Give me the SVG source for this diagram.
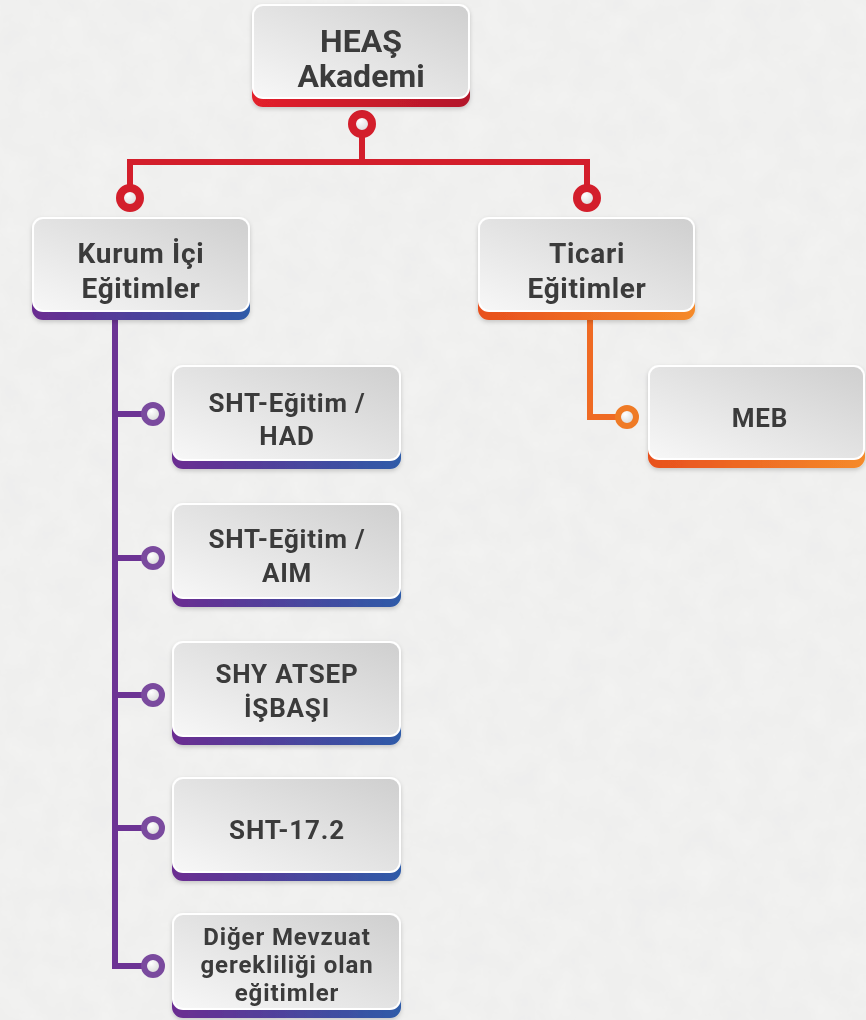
<svg xmlns="http://www.w3.org/2000/svg" width="866" height="1020" viewBox="0 0 866 1020">
<defs>
<linearGradient id="gGray" x1="0" y1="1" x2="1" y2="0">
<stop offset="0" stop-color="#f7f7f7"/><stop offset="1" stop-color="#cfcfcf"/>
</linearGradient>
<linearGradient id="gRed" x1="0" y1="0" x2="1" y2="0">
<stop offset="0" stop-color="#e3202c"/><stop offset="1" stop-color="#b3172b"/>
</linearGradient>
<linearGradient id="gPur" x1="0" y1="0" x2="1" y2="0">
<stop offset="0" stop-color="#6b2c91"/><stop offset="1" stop-color="#2e5ba8"/>
</linearGradient>
<linearGradient id="gOra" x1="0" y1="0" x2="1" y2="0">
<stop offset="0" stop-color="#e8501e"/><stop offset="1" stop-color="#f58a2a"/>
</linearGradient>
<radialGradient id="gDot" cx="0.4" cy="0.35" r="0.7">
<stop offset="0" stop-color="#ffffff"/><stop offset="1" stop-color="#d0d0d0"/>
</radialGradient>
<filter id="paper" x="0" y="0" width="100%" height="100%">
<feTurbulence type="fractalNoise" baseFrequency="0.035" numOctaves="4" seed="3" result="n"/>
<feColorMatrix in="n" type="matrix" values="0 0 0 0 0.5  0 0 0 0 0.5  0 0 0 0 0.5  0 0 0 0.12 0" result="c"/>
<feComposite in="c" in2="SourceGraphic" operator="over"/>
</filter>
<filter id="sh" x="-10%" y="-10%" width="120%" height="130%">
<feDropShadow dx="0" dy="2" stdDeviation="2" flood-color="#000" flood-opacity="0.18"/>
</filter>
</defs>
<style>
.t{font-family:Roboto,"Noto Sans","Liberation Sans",sans-serif;font-weight:700;fill:#3b3b3b;text-anchor:middle}
.big{font-size:32px}
.mid{font-size:28px;letter-spacing:0.7px}
.sm{font-size:26px;letter-spacing:0.8px}
.xs{font-size:24px;letter-spacing:0.9px}
.rl{stroke:#d31e2b;stroke-width:6;fill:none}
.pl{stroke:#6c3394;stroke-width:6;fill:none}
.ol{stroke:#ef6a23;stroke-width:6;fill:none}
.rc{fill:url(#gDot);stroke:#d31e2b;stroke-width:8}
.pc{fill:url(#gDot);stroke:#7a4a9e;stroke-width:6}
.oc{fill:url(#gDot);stroke:#ef7a25;stroke-width:6}
.wb{fill:#ffffff}
.gb{fill:url(#gGray)}
</style>
<rect width="866" height="1020" fill="#f3f3f2" filter="url(#paper)"/>

<g id="connectors">
<line class="rl" x1="362" y1="136" x2="362" y2="162"/>
<line class="rl" x1="127" y1="162" x2="590" y2="162"/>
<line class="rl" x1="130" y1="159" x2="130" y2="188"/>
<line class="rl" x1="587" y1="159" x2="587" y2="188"/>
<circle class="rc" cx="362" cy="124" r="10"/>
<circle class="rc" cx="130" cy="198" r="10"/>
<circle class="rc" cx="587" cy="198" r="10"/>

<polyline class="ol" points="590,318 590,417 616,417"/>
<circle class="oc" cx="627" cy="417" r="9"/>

<polyline class="pl" points="115,318 115,966 142,966"/>
<line class="pl" x1="115" y1="414" x2="142" y2="414"/>
<line class="pl" x1="115" y1="558" x2="142" y2="558"/>
<line class="pl" x1="115" y1="695" x2="142" y2="695"/>
<line class="pl" x1="115" y1="828" x2="142" y2="828"/>
<circle class="pc" cx="153" cy="414" r="9"/>
<circle class="pc" cx="153" cy="558" r="9"/>
<circle class="pc" cx="153" cy="695" r="9"/>
<circle class="pc" cx="153" cy="828" r="9"/>
<circle class="pc" cx="153" cy="966" r="9"/>
</g>

<g id="heas" filter="url(#sh)">
<rect x="252" y="14" width="218" height="93" rx="11" fill="url(#gRed)"/>
<rect x="252" y="4" width="218" height="95" rx="11" class="wb"/>
<rect x="254" y="6" width="214" height="91" rx="9" class="gb"/>
<text class="t big" x="361" y="52">HEAŞ</text>
<text class="t big" x="361" y="87">Akademi</text>
</g>

<g id="kurum" filter="url(#sh)">
<rect x="32" y="227" width="218" height="93" rx="11" fill="url(#gPur)"/>
<rect x="32" y="217" width="218" height="95" rx="11" class="wb"/>
<rect x="34" y="219" width="214" height="91" rx="9" class="gb"/>
<text class="t mid" x="141" y="263">Kurum İçi</text>
<text class="t mid" x="141" y="298">Eğitimler</text>
</g>

<g id="ticari" filter="url(#sh)">
<rect x="478" y="227" width="217" height="93" rx="11" fill="url(#gOra)"/>
<rect x="478" y="217" width="217" height="95" rx="11" class="wb"/>
<rect x="480" y="219" width="213" height="91" rx="9" class="gb"/>
<text class="t mid" x="587" y="263">Ticari</text>
<text class="t mid" x="587" y="298">Eğitimler</text>
</g>

<g id="meb" filter="url(#sh)">
<rect x="648" y="375" width="217" height="93" rx="11" fill="url(#gOra)"/>
<rect x="648" y="365" width="217" height="95" rx="11" class="wb"/>
<rect x="650" y="367" width="213" height="91" rx="9" class="gb"/>
<text class="t sm" x="760" y="427">MEB</text>
</g>

<g id="had" filter="url(#sh)">
<rect x="172" y="375" width="229" height="94" rx="11" fill="url(#gPur)"/>
<rect x="172" y="365" width="229" height="96" rx="11" class="wb"/>
<rect x="174" y="367" width="225" height="92" rx="9" class="gb"/>
<text class="t sm" x="287" y="412">SHT-Eğitim /</text>
<text class="t sm" x="287" y="445">HAD</text>
</g>

<g id="aim" filter="url(#sh)">
<rect x="172" y="513" width="229" height="94" rx="11" fill="url(#gPur)"/>
<rect x="172" y="503" width="229" height="96" rx="11" class="wb"/>
<rect x="174" y="505" width="225" height="92" rx="9" class="gb"/>
<text class="t sm" x="287" y="548">SHT-Eğitim /</text>
<text class="t sm" x="287" y="582">AIM</text>
</g>

<g id="atsep" filter="url(#sh)">
<rect x="172" y="651" width="229" height="94" rx="11" fill="url(#gPur)"/>
<rect x="172" y="641" width="229" height="96" rx="11" class="wb"/>
<rect x="174" y="643" width="225" height="92" rx="9" class="gb"/>
<text class="t sm" x="287" y="683">SHY ATSEP</text>
<text class="t sm" x="287" y="717">İŞBAŞI</text>
</g>

<g id="sht172" filter="url(#sh)">
<rect x="172" y="787" width="229" height="94" rx="11" fill="url(#gPur)"/>
<rect x="172" y="777" width="229" height="96" rx="11" class="wb"/>
<rect x="174" y="779" width="225" height="92" rx="9" class="gb"/>
<text class="t sm" x="287" y="839">SHT-17.2</text>
</g>

<g id="diger" filter="url(#sh)">
<rect x="172" y="923" width="229" height="95" rx="11" fill="url(#gPur)"/>
<rect x="172" y="913" width="229" height="97" rx="11" class="wb"/>
<rect x="174" y="915" width="225" height="93" rx="9" class="gb"/>
<text class="t xs" x="287" y="945">Diğer Mevzuat</text>
<text class="t xs" x="287" y="973">gerekliliği olan</text>
<text class="t xs" x="287" y="1001">eğitimler</text>
</g>
</svg>
